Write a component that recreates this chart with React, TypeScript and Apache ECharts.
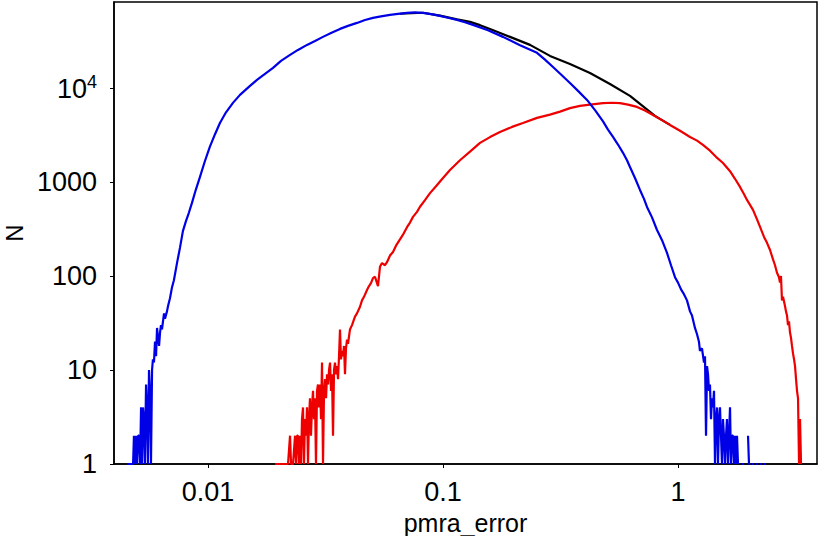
import React, { useEffect, useRef } from "react";
import * as echarts from "echarts";

// pmra_error bin centres and counts
const blueX = [
  0.00452, 0.0047, 0.0048, 0.00484, 0.00489, 0.00494, 0.00499, 0.00504, 0.00509, 0.00514,
  0.00519, 0.00524, 0.00529, 0.00534, 0.00539, 0.00545, 0.0055, 0.00555, 0.00561, 0.00566,
  0.00572, 0.00578, 0.00583, 0.00589, 0.00595, 0.00601, 0.00607, 0.00613, 0.00619, 0.00625,
  0.00631, 0.00637, 0.0065, 0.00656, 0.00669, 0.00676, 0.00689, 0.00703, 0.00716, 0.00738,
  0.0076, 0.00782, 0.00805, 0.00829, 0.00854, 0.00888, 0.00923, 0.00969, 0.01018, 0.0107,
  0.01124, 0.01193, 0.01277, 0.01368, 0.01509, 0.01616, 0.01748, 0.01891, 0.02045, 0.02234,
  0.02415, 0.02638, 0.02853, 0.03085, 0.03338, 0.03645, 0.03941, 0.04305, 0.04657, 0.05036,
  0.05446, 0.0595, 0.06433, 0.07027, 0.07601, 0.0822, 0.0889, 0.0971, 0.105, 0.1147,
  0.124, 0.1342, 0.1554, 0.18, 0.2127, 0.2512, 0.2716, 0.2938, 0.3178, 0.347,
  0.3754, 0.41, 0.4435, 0.4797, 0.5036, 0.5289, 0.5554, 0.5834, 0.6067, 0.6247,
  0.6561, 0.6891, 0.7166, 0.738, 0.7752, 0.8141, 0.855, 0.8978, 0.9338, 0.971,
  1.0, 1.03, 1.06, 1.092, 1.125, 1.147, 1.181, 1.205, 1.228, 1.24,
  1.265, 1.29, 1.303, 1.316, 1.329, 1.342, 1.355, 1.368, 1.382, 1.395,
  1.409, 1.423, 1.437, 1.451, 1.466, 1.48, 1.495, 1.509, 1.524, 1.539,
  1.554, 1.569, 1.585, 1.601, 1.616, 1.632, 1.648, 1.665, 1.681, 1.697,
  1.714, 1.731, 1.748, 1.765, 1.783, 1.8, 1.83, 1.872, 1.9, 1.95,
  1.986, 2.005, 2.03, 2.05, 2.065, 2.09, 2.12, 2.147, 2.17, 2.2,
  2.234, 2.26, 2.29, 2.323, 2.35, 2.42, 2.464,
];
const blueN = [
  1, 1, 1, 2, 1, 2, 1, 2, 2, 1,
  4, 1, 4, 3, 1, 7, 4, 1, 10, 6,
  1, 10, 13, 12, 20, 14, 28, 22, 18, 25,
  30, 27, 40, 35, 42, 48, 58, 76, 90, 137,
  200, 300, 380, 470, 595, 830, 1120, 1650, 2360, 3200,
  4230, 5500, 6930, 8430, 10500, 12170, 14090, 16320, 19370, 22430,
  25360, 28670, 31620, 34900, 38480, 42450, 45710, 49130, 52840, 55550,
  57650, 59850, 61290, 62820, 63560, 62820, 61000, 58300, 55800, 52900,
  50000, 46800, 41000, 34900, 28500, 23600, 20000, 16700, 13900, 11300,
  9300, 7450, 5800, 4400, 3600, 3010, 2500, 2040, 1700, 1440,
  1100, 822, 660, 542, 420, 308, 240, 176, 130, 97,
  85, 72, 64, 55, 42, 38, 28, 24, 20, 16,
  17, 12, 14, 2, 11, 9, 6, 7, 3, 5,
  4, 6, 1, 3, 4, 1, 3, 4, 2, 1,
  3, 2, 1, 2, 3, 1, 2, 4, 1, 2,
  2, 1, 2, 1, 2, 1, null, 1, 1, null,
  2, 1, 1, null, 1, 1, null, 1, 1, null,
  1, 1, null, 1, 1, null, 1,
];

const redX = [
  0.01928, 0.02085, 0.0219, 0.02234, 0.02256, 0.023, 0.02346, 0.02369, 0.02392, 0.02415,
  0.02439, 0.02464, 0.02488, 0.02512, 0.02537, 0.02561, 0.02587, 0.02612, 0.02638, 0.02664,
  0.0269, 0.02716, 0.02743, 0.0277, 0.02798, 0.02825, 0.02853, 0.02881, 0.0291, 0.02938,
  0.02967, 0.02997, 0.03026, 0.03056, 0.03086, 0.03117, 0.03148, 0.03179, 0.0321, 0.03242,
  0.03274, 0.03306, 0.03338, 0.03371, 0.03404, 0.03438, 0.03471, 0.03506, 0.0354, 0.03575,
  0.0361, 0.03645, 0.03681, 0.03717, 0.03754, 0.03791, 0.03828, 0.03866, 0.03904, 0.03942,
  0.0402, 0.041, 0.04222, 0.04305, 0.04434, 0.04522, 0.04611, 0.04749, 0.04843, 0.04938,
  0.05036, 0.05135, 0.05289, 0.05393, 0.055, 0.05664, 0.05776, 0.0595, 0.06127, 0.0631,
  0.06561, 0.06756, 0.07027, 0.07236, 0.07452, 0.07751, 0.07982, 0.08381, 0.08805, 0.09337,
  0.1, 0.1071, 0.1181, 0.1303, 0.1437, 0.1585, 0.1748, 0.1966, 0.219, 0.2512,
  0.2853, 0.3148, 0.347, 0.3828, 0.4222, 0.4797, 0.5238, 0.5664, 0.6127, 0.6692,
  0.7237, 0.7826, 0.8467, 0.9247, 1.02, 1.125, 1.205, 1.277, 1.368, 1.451,
  1.554, 1.665, 1.748, 1.836, 1.91, 1.966, 2.025, 2.085, 2.169, 2.234,
  2.323, 2.392, 2.464, 2.537, 2.587, 2.638, 2.69, 2.716, 2.743, 2.77,
  2.798, 2.853, 2.881, 2.91, 2.938, 2.967, 2.997, 3.026, 3.056, 3.086,
  3.117, 3.148, 3.179, 3.21, 3.242, 3.274, 3.306, 3.338,
];
const redN = [
  1, 1, 1, 2, 1, 1, 2, 1, 2, 2,
  1, 2, 1, 3, 4, 1, 3, 2, 4, 1,
  3, 5, 2, 4, 6, 3, 5, 1, 6, 7,
  4, 7, 3, 12, 1, 6, 8, 5, 9, 7,
  10, 12, 6, 9, 2, 10, 12, 9, 11, 8,
  14, 27, 13, 16, 14, 18, 9, 17, 21, 19,
  27, 30, 37, 40, 47, 55, 60, 71, 78, 84,
  95, 98, 78, 125, 137, 130, 140, 165, 180, 210,
  245, 275, 330, 370, 425, 480, 545, 640, 760, 900,
  1100, 1340, 1700, 2100, 2600, 3000, 3400, 3850, 4240, 4800,
  5200, 5600, 6100, 6450, 6650, 6900, 6950, 6900, 6650, 6280,
  5750, 5160, 4600, 4040, 3500, 3010, 2750, 2480, 2150, 1850,
  1590, 1300, 1080, 885, 740, 644, 570, 504, 400, 332,
  260, 225, 189, 150, 130, 108, 97, 85, 100, 55,
  60, 48, 42, 38, 30, 33, 25, 22, 18, 15,
  13, 11, 8, 6, 5, 1, 3, 1,
];

const blackX = [
  0.06561, 0.0822, 0.0971, 0.1147, 0.1303, 0.1437, 0.1585, 0.1928, 0.2346, 0.2853,
  0.347, 0.4222, 0.5135, 0.6247, 0.7237, 0.7982, 0.9247,
];
const blackN = [
  61500, 63000, 58800, 53500, 50400, 46500, 42400, 34900, 28700, 21900,
  18000, 14400, 11000, 8230, 6120, 5040, 4040,
];

const yTickLabels: Record<number, string> = {
  1: "1",
  10: "10",
  100: "100",
  1000: "1000",
  10000: "{b|10}{s|4}",
};

const FONT = "Liberation Sans";

function pairs(xs: number[], ys: (number | null)[]) {
  return xs.map((x, i) => [x, ys[i] === null ? "-" : ys[i]]);
}

export default function App() {
  const ref = useRef<HTMLDivElement>(null);
  useEffect(() => {
    const chart = echarts.init(ref.current!, null, { renderer: "svg" });
    chart.setOption({
      animation: false,
      backgroundColor: "#ffffff",
      grid: {
        left: 114,
        right: 1,
        top: 2,
        bottom: 72,
        containLabel: false,
        outerBoundsMode: "none",
        show: true,
        borderColor: "#000",
        borderWidth: 1.5,
      },
      xAxis: {
        type: "log",
        logBase: 10,
        min: 0.003981,
        max: 3.904,
        name: "pmra_error",
        nameLocation: "middle",
        nameGap: 46,
        nameTextStyle: { fontSize: 25, fontFamily: FONT, color: "#000" },
        axisLine: { lineStyle: { color: "#000", width: 1.5 } },
        axisTick: { show: true, length: 4, lineStyle: { color: "#000", width: 1 } },
        minorTick: { show: false },
        splitLine: { show: false },
        axisLabel: {
          fontSize: 27,
          fontFamily: FONT,
          color: "#000",
          margin: 14,
          showMinLabel: false,
          showMaxLabel: false,
        },
      },
      yAxis: {
        type: "log",
        logBase: 10,
        min: 1,
        max: 82000,
        name: "N",
        nameLocation: "middle",
        nameGap: 86,
        nameTextStyle: { fontSize: 24, lineHeight: 20, fontFamily: FONT, color: "#000" },
        axisLine: { lineStyle: { color: "#000", width: 1.5 } },
        axisTick: { show: true, length: 4, lineStyle: { color: "#000", width: 1 } },
        splitLine: { show: false },
        axisLabel: {
          fontSize: 27,
          fontFamily: FONT,
          color: "#000",
          margin: 17,
          showMaxLabel: false,
          formatter: (v: number) => yTickLabels[Math.round(v)] ?? "",
          rich: {
            b: { fontSize: 27, fontFamily: FONT, color: "#000", verticalAlign: "bottom", lineHeight: 30 },
            s: { fontSize: 18, fontFamily: FONT, color: "#000", verticalAlign: "top", lineHeight: 14 },
          },
        },
      },
      series: [
        {
          name: "all",
          type: "line",
          data: pairs(blackX, blackN),
          showSymbol: false,
          symbol: "none",
          lineStyle: { color: "#000000", width: 2.2 },
          z: 1,
        },
        {
          name: "red",
          type: "line",
          data: pairs(redX, redN),
          showSymbol: false,
          symbol: "none",
          lineStyle: { color: "#ee0000", width: 2.2 },
          z: 2,
        },
        {
          name: "blue",
          type: "line",
          data: pairs(blueX, blueN),
          showSymbol: false,
          symbol: "none",
          connectNulls: false,
          lineStyle: { color: "#0000e6", width: 2.2 },
          z: 3,
        },
      ],
    });
    return () => chart.dispose();
  }, []);
  return (
    <div
      ref={ref}
      style={{ position: "fixed", left: 0, top: 0, width: 818, height: 536 }}
    />
  );
}
